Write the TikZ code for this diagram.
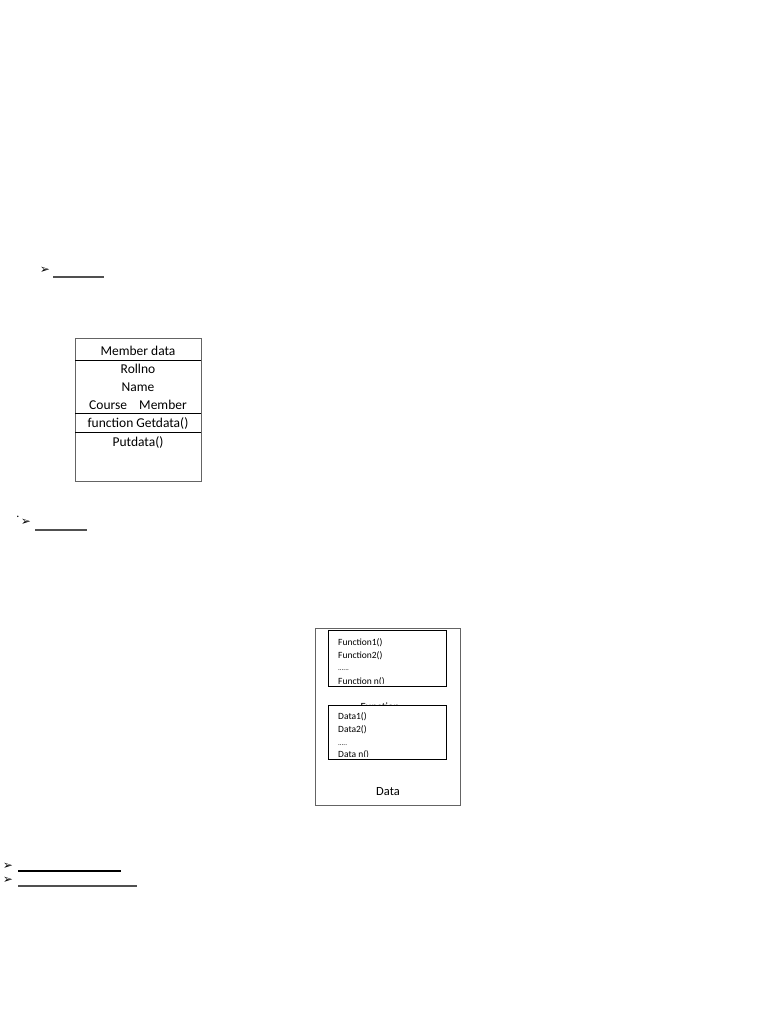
\documentclass[tikz,border=0pt]{standalone}
\usepackage{fontspec}
\setmainfont{Carlito}
\newfontfamily\symfont{DejaVu Sans}
\definecolor{linegray}{RGB}{80,80,80}
\definecolor{boxgray}{RGB}{100,100,100}
\begin{document}
\begin{tikzpicture}[x=1pt,y=-1pt]
\useasboundingbox[fill=white] (0,0) rectangle (768,1024);
\tikzset{
  bul/.style={font=\symfont\fontsize{12}{12}\selectfont,inner sep=0pt},
  memtext/.style={font=\fontsize{13.5}{14}\selectfont,inner sep=0pt,anchor=base},
  smalltext/.style={font=\fontsize{9.5}{10}\selectfont,inner sep=0pt,anchor=base west},
}
% first bullet
\node[bul] (b1) at (45,270) {➢};
\coordinate (u1a) at (53,277);
\coordinate (u1b) at (104,277);
\draw[linegray,line width=1.2pt] (u1a) -- (u1b);

% member box
\node[draw=boxgray,line width=0.8pt,minimum width=126pt,minimum height=143pt,inner sep=0pt,anchor=north west] (mem) at (75,338) {};
\draw[line width=0.8pt] (75,360) -- (201,360);
\draw[line width=0.8pt] (75,413) -- (201,413);
\draw[line width=0.8pt] (75,432) -- (201,432);
\node[memtext] (m1) at (138,355) {Member data};
\node[memtext] (m2) at (138,373) {Rollno};
\node[memtext] (m3) at (138,391) {Name};
\node[memtext] (m4) at (138,409) {Course\hspace{0.9em}Member};
\node[memtext] (m5) at (138,427) {function Getdata()};
\node[memtext] (m6) at (138,446) {Putdata()};

% second bullet
\node[font=\fontsize{12}{12}\selectfont,inner sep=0pt] (d2) at (18,517) {.};
\node[bul] (b2) at (26,522) {➢};
\coordinate (u2a) at (35,530);
\coordinate (u2b) at (87,530);
\draw[linegray,line width=1.2pt] (u2a) -- (u2b);

% object box
\node[draw=boxgray,line width=0.8pt,minimum width=145pt,minimum height=177pt,inner sep=0pt,anchor=north west] (obj) at (315,628) {};
\node[font=\fontsize{12.5}{13}\selectfont,inner sep=0pt,anchor=base] (objdata) at (388,795) {Data};
\node[font=\fontsize{11}{11}\selectfont,inner sep=0pt,anchor=base] (fun) at (380,710) {Function};
\node[draw,fill=white,line width=0.8pt,minimum width=118pt,minimum height=56pt,inner sep=0pt,anchor=north west] (fbox) at (328,630) {};
\node[draw,fill=white,line width=0.8pt,minimum width=118pt,minimum height=54pt,inner sep=0pt,anchor=north west] (dbox) at (328,705) {};
\begin{scope}
\clip (328,630) rectangle (446,683);
\node[smalltext] (f1) at (338,645) {Function1()};
\node[smalltext] (f2) at (338,658) {Function2()};
\node[smalltext] (f3) at (338,670) {\fontsize{7}{7}\selectfont......};
\node[smalltext] (f4) at (338,684) {Function n()};
\end{scope}
\begin{scope}
\clip (328,705) rectangle (446,756);
\node[smalltext] (d1) at (338,719) {Data1()};
\node[smalltext] (dd2) at (338,732) {Data2()};
\node[smalltext] (d3) at (338,745) {\fontsize{7}{7}\selectfont.....};
\node[smalltext] (d4) at (338,757) {Data n()};
\end{scope}

% last bullets
\node[bul] (b3) at (8,866) {➢};
\coordinate (u3a) at (18,871);
\coordinate (u3b) at (121,871);
\draw[line width=1.5pt] (u3a) -- (u3b);
\node[bul] (b4) at (8,880) {➢};
\coordinate (u4a) at (18,886);
\coordinate (u4b) at (137,886);
\draw[linegray,line width=1.2pt] (u4a) -- (u4b);
\end{tikzpicture}
\end{document}
